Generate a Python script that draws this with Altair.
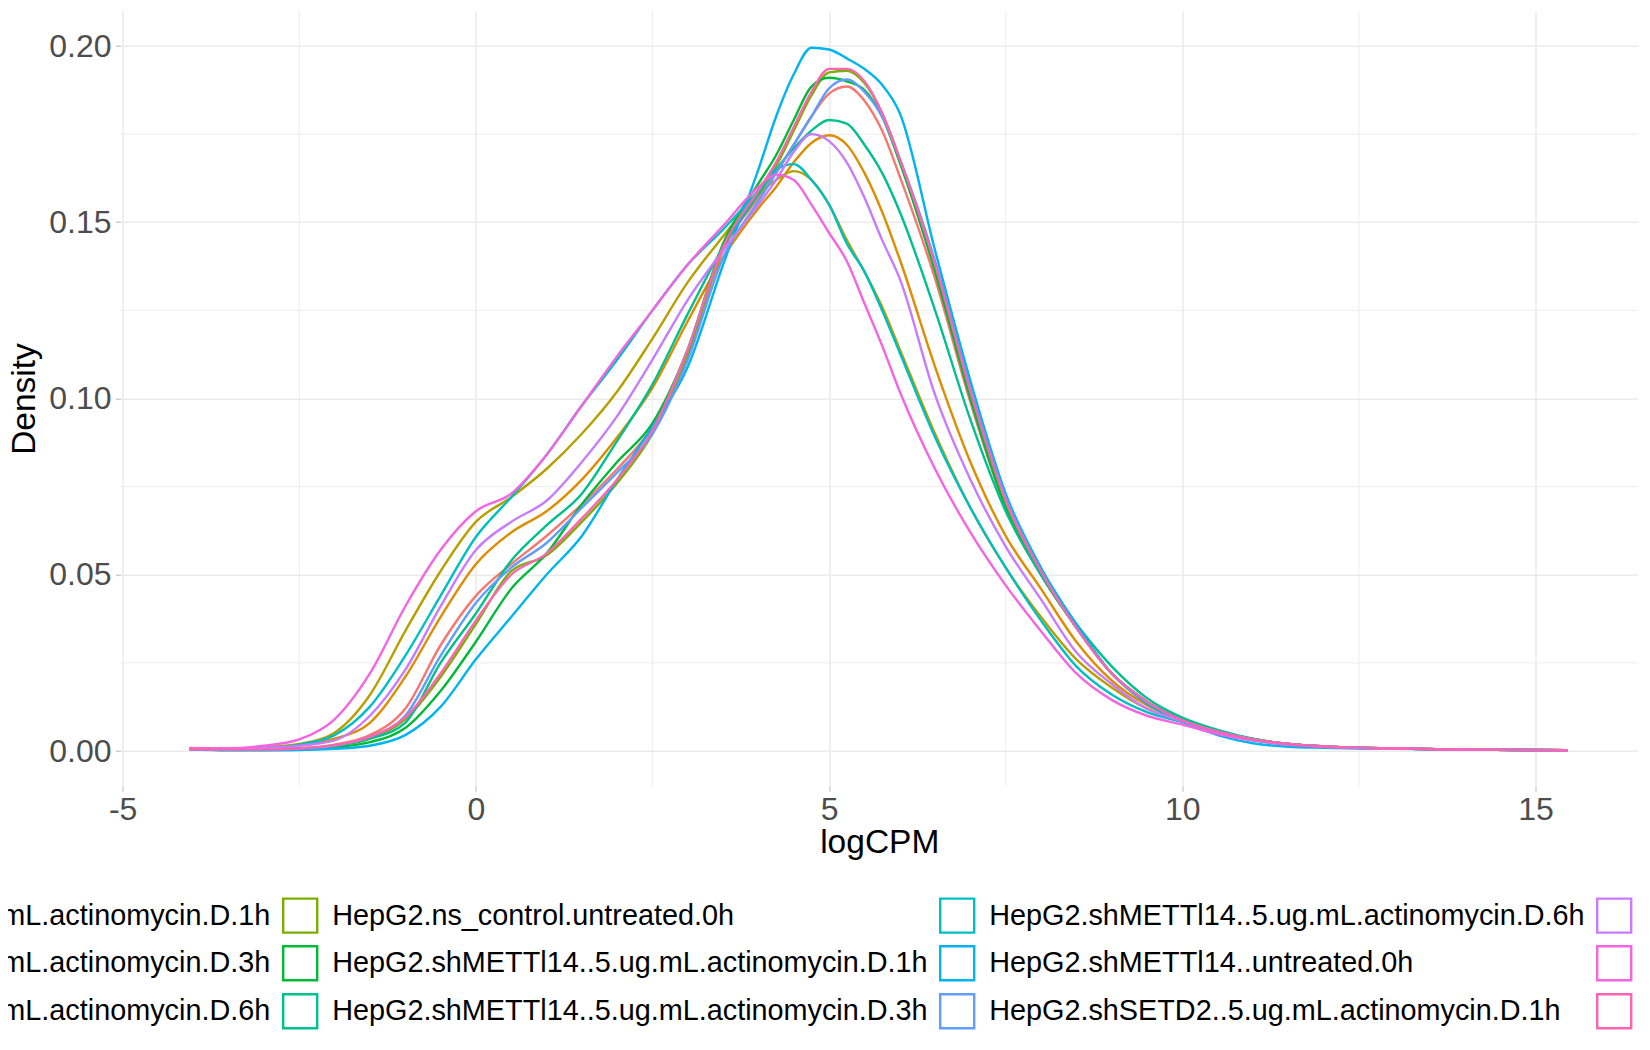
import altair as alt
import pandas as pd

# ---- data ----
x_grid = [-4.05, -3.5, -3.0, -2.5, -2.0, -1.5, -1.0, -0.5, 0.0, 0.5, 1.0, 1.5, 2.0, 2.5, 3.0, 3.5,
          4.0, 4.25, 4.5, 4.75, 5.0, 5.25, 5.5, 5.75, 6.0, 6.5, 7.0, 7.5, 8.0, 8.5, 9.0, 9.5,
          10.0, 10.5, 11.0, 11.5, 12.0, 13.0, 14.0, 15.45]

names = [
    "HepG2.ns_control..5.ug.mL.actinomycin.D.1h",
    "HepG2.ns_control..5.ug.mL.actinomycin.D.3h",
    "HepG2.ns_control..5.ug.mL.actinomycin.D.6h",
    "HepG2.ns_control.untreated.0h",
    "HepG2.shMETTl14..5.ug.mL.actinomycin.D.1h",
    "HepG2.shMETTl14..5.ug.mL.actinomycin.D.3h",
    "HepG2.shMETTl14..5.ug.mL.actinomycin.D.6h",
    "HepG2.shMETTl14..untreated.0h",
    "HepG2.shSETD2..5.ug.mL.actinomycin.D.1h",
    "HepG2.shSETD2..5.ug.mL.actinomycin.D.3h",
    "HepG2.shSETD2..5.ug.mL.actinomycin.D.6h",
    "HepG2.shSETD2..untreated.0h",
]

colors = ["#F8766D", "#DE8C00", "#B79F00", "#7CAE00", "#00BA38", "#00C08B",
          "#00BFC4", "#00B4F0", "#619CFF", "#C77CFF", "#F564E3", "#FF64B0"]

s1 = [0.0006, 0.0004, 0.0005, 0.0008, 0.0018, 0.0045, 0.012, 0.030, 0.044, 0.053, 0.061, 0.070, 0.080, 0.092, 0.113, 0.142,
      0.157, 0.164, 0.172, 0.180, 0.1865, 0.1885, 0.1845, 0.176, 0.163, 0.134, 0.099, 0.069, 0.050, 0.035, 0.022, 0.014,
      0.009, 0.0056, 0.0033, 0.002, 0.0013, 0.0007, 0.0004, 0.0002]
s2 = [0.0008, 0.0007, 0.0009, 0.0017, 0.0035, 0.008, 0.021, 0.038, 0.053, 0.062, 0.068, 0.077, 0.089, 0.103, 0.122, 0.140,
      0.154, 0.160, 0.167, 0.1725, 0.1747, 0.172, 0.164, 0.153, 0.1395, 0.109, 0.082, 0.061, 0.046, 0.031, 0.020, 0.013,
      0.0088, 0.0056, 0.0034, 0.002, 0.0013, 0.0007, 0.0004, 0.0002]
s3 = [0.0009, 0.0007, 0.0011, 0.002, 0.0052, 0.0159, 0.034, 0.051, 0.065, 0.072, 0.080, 0.090, 0.102, 0.117, 0.133, 0.146,
      0.158, 0.162, 0.1645, 0.162, 0.155, 0.145, 0.136, 0.126, 0.114, 0.090, 0.069, 0.052, 0.038, 0.026, 0.018, 0.012,
      0.0085, 0.0055, 0.0034, 0.002, 0.0013, 0.0007, 0.0004, 0.0002]
s4 = [0.0006, 0.0004, 0.0004, 0.0006, 0.0014, 0.0035, 0.009, 0.021, 0.036, 0.051, 0.0555, 0.065, 0.076, 0.090, 0.112, 0.143,
      0.159, 0.166, 0.176, 0.186, 0.1925, 0.193, 0.1895, 0.181, 0.168, 0.137, 0.101, 0.070, 0.051, 0.035, 0.022, 0.014,
      0.0088, 0.0055, 0.0033, 0.002, 0.0013, 0.0007, 0.0004, 0.0002]
s5 = [0.0005, 0.0003, 0.0003, 0.0004, 0.001, 0.0025, 0.0065, 0.017, 0.031, 0.046, 0.056, 0.070, 0.082, 0.093, 0.114, 0.144,
      0.161, 0.169, 0.179, 0.1885, 0.191, 0.190, 0.1875, 0.180, 0.167, 0.136, 0.100, 0.069, 0.050, 0.035, 0.022, 0.014,
      0.009, 0.0056, 0.0033, 0.002, 0.0013, 0.0007, 0.0004, 0.0002]
s6 = [0.0005, 0.0004, 0.0004, 0.0006, 0.0015, 0.0035, 0.008, 0.025, 0.039, 0.054, 0.064, 0.073, 0.088, 0.104, 0.124, 0.143,
      0.158, 0.165, 0.171, 0.176, 0.179, 0.178, 0.172, 0.164, 0.153, 0.125, 0.094, 0.068, 0.050, 0.036, 0.024, 0.015,
      0.0095, 0.006, 0.0035, 0.002, 0.0013, 0.0007, 0.0004, 0.0002]
s7 = [0.0006, 0.0005, 0.0008, 0.0018, 0.0045, 0.0126, 0.027, 0.044, 0.0607, 0.072, 0.084, 0.098, 0.111, 0.125, 0.138, 0.148,
      0.159, 0.165, 0.1665, 0.162, 0.155, 0.144, 0.136, 0.125, 0.113, 0.089, 0.069, 0.052, 0.037, 0.024, 0.016, 0.011,
      0.0082, 0.0052, 0.003, 0.0018, 0.0012, 0.0007, 0.0004, 0.0002]
s8 = [0.0004, 0.0002, 0.0002, 0.0003, 0.0006, 0.0015, 0.0045, 0.0125, 0.026, 0.038, 0.050, 0.061, 0.077, 0.092, 0.109, 0.138,
      0.165, 0.180, 0.192, 0.1995, 0.199, 0.1965, 0.1935, 0.189, 0.181, 0.142, 0.105, 0.073, 0.052, 0.036, 0.022, 0.0135,
      0.0083, 0.0045, 0.0022, 0.0012, 0.0009, 0.0006, 0.0004, 0.0002]
s9 = [0.0005, 0.0004, 0.0004, 0.0007, 0.0015, 0.004, 0.010, 0.027, 0.042, 0.052, 0.059, 0.069, 0.079, 0.090, 0.111, 0.140,
      0.156, 0.164, 0.172, 0.180, 0.188, 0.1905, 0.187, 0.180, 0.168, 0.139, 0.103, 0.072, 0.051, 0.035, 0.022, 0.014,
      0.0088, 0.0055, 0.0033, 0.002, 0.0013, 0.0007, 0.0004, 0.0002]
s10 = [0.0007, 0.0005, 0.0008, 0.0015, 0.003, 0.010, 0.023, 0.041, 0.057, 0.065, 0.071, 0.082, 0.095, 0.111, 0.128, 0.142,
       0.155, 0.162, 0.170, 0.175, 0.173, 0.167, 0.157, 0.145, 0.134, 0.101, 0.077, 0.058, 0.043, 0.028, 0.019, 0.012,
       0.0085, 0.0055, 0.0033, 0.002, 0.0013, 0.0007, 0.0004, 0.0002]
s11 = [0.0008, 0.0008, 0.0015, 0.0033, 0.009, 0.022, 0.041, 0.057, 0.068, 0.073, 0.084, 0.098, 0.112, 0.125, 0.138, 0.149,
       0.160, 0.1635, 0.162, 0.155, 0.147, 0.139, 0.127, 0.115, 0.102, 0.080, 0.062, 0.047, 0.034, 0.022, 0.0145, 0.010,
       0.0075, 0.0048, 0.003, 0.0018, 0.0012, 0.0007, 0.0004, 0.0002]
s12 = [0.0005, 0.0004, 0.0004, 0.0007, 0.0016, 0.004, 0.0095, 0.022, 0.037, 0.050, 0.056, 0.066, 0.077, 0.091, 0.114, 0.143,
       0.159, 0.167, 0.177, 0.187, 0.1935, 0.1935, 0.190, 0.181, 0.168, 0.138, 0.102, 0.071, 0.051, 0.035, 0.022, 0.014,
       0.0087, 0.0055, 0.0033, 0.002, 0.0013, 0.0007, 0.0004, 0.0002]

series = [s1, s2, s3, s4, s5, s6, s7, s8, s9, s10, s11, s12]

x_ticks = [-5, 0, 5, 10, 15]
y_ticks = [0.0, 0.05, 0.10, 0.15, 0.20]
x_minor = [-2.5, 2.5, 7.5, 12.5]
y_minor = [0.025, 0.075, 0.125, 0.175]

# ---- long table ----
rows = []
for name, ys in zip(names, series):
    for i, (xv, yv) in enumerate(zip(x_grid, ys)):
        rows.append({"sample": name, "logCPM": xv, "density": yv, "idx": i})
df = pd.DataFrame(rows)

FONT = "Liberation Sans"
W, H = 1517.5, 775.5
GRID = "#EBEBEB"

x_scale = alt.Scale(domain=[-5.03, 16.45], nice=False, zero=False)
y_scale = alt.Scale(domain=[-0.01, 0.21], nice=False, zero=False)

x_axis = alt.Axis(values=x_ticks, labelExpr="'' + datum.value", grid=True, gridColor=GRID, gridWidth=1.6,
                  domain=False, ticks=True, tickSize=5, tickColor="#CFCFCF", tickWidth=1.5,
                  labelFontSize=32, labelColor="#4D4D4D", labelFont=FONT, labelPadding=28.5,
                  labelBaseline="alphabetic", labelFlush=False,
                  title="logCPM", titleFontSize=33.5, titleColor="black", titleFont=FONT,
                  titleFontWeight="normal", titleX=W / 2, titleY=66.7, titleBaseline="alphabetic",
                  titleAlign="center", titleAnchor="middle")
y_axis = alt.Axis(values=y_ticks, format=".2f", grid=True, gridColor=GRID, gridWidth=1.6,
                  domain=False, ticks=True, tickSize=5, tickColor="#CFCFCF", tickWidth=1.5,
                  labelFontSize=32, labelColor="#4D4D4D", labelFont=FONT, labelPadding=4.5,
                  labelFlush=False,
                  title="Density", titleFontSize=33.5, titleColor="black", titleFont=FONT,
                  titleFontWeight="normal", titleAngle=270, titleX=-86.5, titleY=H / 2,
                  titleBaseline="alphabetic", titleAlign="center", titleAnchor="middle")

X = alt.X("logCPM:Q", scale=x_scale, axis=x_axis)
Y = alt.Y("density:Q", scale=y_scale, axis=y_axis)

minor_v = alt.Chart(pd.DataFrame({"logCPM": x_minor})).mark_rule(
    color=GRID, strokeWidth=0.9).encode(x=X)
minor_h = alt.Chart(pd.DataFrame({"density": y_minor})).mark_rule(
    color=GRID, strokeWidth=0.9).encode(y=Y)

lines = alt.Chart(df).mark_line(strokeWidth=2.4, interpolate="monotone").encode(
    x=X,
    y=Y,
    color=alt.Color(
        "sample:N",
        scale=alt.Scale(domain=names, range=colors),
        legend=alt.Legend(
            orient="none", legendX=-481.8, legendY=886, columns=4, direction="vertical", title=None,
            symbolType="square", symbolSize=1156, symbolStrokeWidth=2.4,
            symbolFillColor="transparent", labelFontSize=28.8, labelColor="black",
            labelFont=FONT, labelLimit=3000, labelOffset=13.5, columnPadding=7.0,
            rowPadding=3.0, padding=0, gridAlign="each",
        ),
    ),
    order=alt.Order("idx:Q"),
)

chart = alt.layer(minor_v, minor_h, lines).properties(
    width=W, height=H,
    padding={"left": 112.5, "top": 2.75, "right": 4, "bottom": 246},
    autosize=alt.AutoSizeParams(type="none"),
).configure(font=FONT).configure_view(stroke=None)

chart.save("out.html", embed_options={"renderer": "svg", "actions": False})
